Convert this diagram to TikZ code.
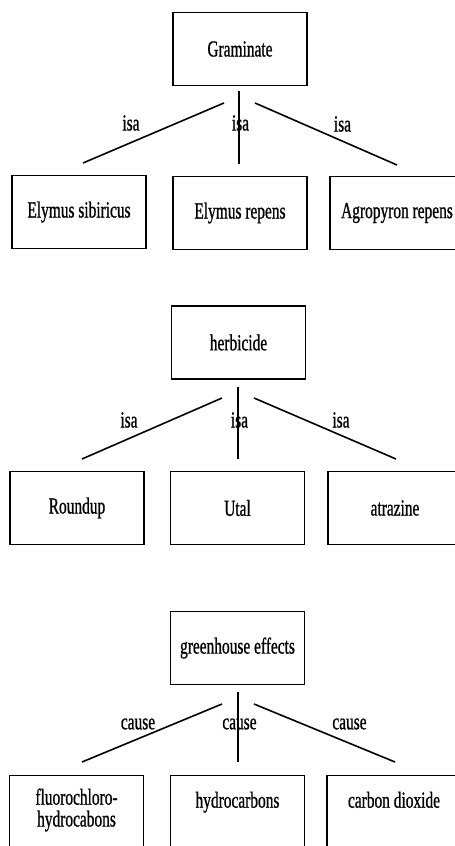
\documentclass[tikz,border=0pt]{standalone}
\usepackage{fontspec}
\setmainfont{Liberation Serif}[FakeStretch=0.67,FakeBold=0.8]
\begin{document}
\begin{tikzpicture}[x=1pt,y=-1pt,
  txt/.style={font=\fontsize{23}{19.5}\selectfont},
  box/.style={txt, draw, line width=1.4pt, minimum width=134pt, minimum height=73pt, inner sep=2pt},
  lowbox/.style={box, anchor=north, minimum height=0pt, inner ysep=0pt, text height=30pt, text depth=80pt},
  rel/.style={txt, inner sep=0pt},
  link/.style={line width=1.6pt}]
\fill[white] (0,0) rectangle (455,846);
\useasboundingbox (0,0) rectangle (455,846);

% ---------- group 1 ----------
\node[box] (gram) at (240,49) {Graminate};
\node[box] (es) at (79,212) {Elymus sibiricus};
\node[box] (er) at (240,213) {Elymus repens};
\node[box] (ar) at (397,213) {Agropyron repens};
\coordinate (g1la) at (224,103); \coordinate (g1lb) at (83,163);
\coordinate (g1ma) at (239,91);  \coordinate (g1mb) at (239,164);
\coordinate (g1ra) at (255,103); \coordinate (g1rb) at (397,165);
\draw[link] (g1la) -- (g1lb);
\draw[link] (g1ma) -- (g1mb);
\draw[link] (g1ra) -- (g1rb);
\node[rel] (g1l) at (131,123) {isa};
\node[rel] (g1m) at (240.5,123) {isa};
\node[rel] (g1r) at (342.5,124) {isa};

% ---------- group 2 ----------
\node[box] (herb) at (238.5,342.5) {herbicide};
\node[box] (round) at (77,508) {Roundup};
\node[box] (utal) at (237.5,508) {Utal};
\node[box] (atra) at (395,508) {atrazine};
\coordinate (g2la) at (222,398); \coordinate (g2lb) at (82,459);
\coordinate (g2ma) at (238,387); \coordinate (g2mb) at (238,459);
\coordinate (g2ra) at (254,398); \coordinate (g2rb) at (396,459);
\draw[link] (g2la) -- (g2lb);
\draw[link] (g2ma) -- (g2mb);
\draw[link] (g2ra) -- (g2rb);
\node[rel] (g2l) at (129,420) {isa};
\node[rel] (g2m) at (239.5,420) {isa};
\node[rel] (g2r) at (341,420) {isa};

% ---------- group 3 ----------
\node[box] (green) at (237.5,648) {greenhouse effects};
\node[lowbox, text height=29pt] (fluoro) at (76.5,775) {\begin{tabular}[t]{@{}c@{}}fluorochloro-\\hydrocabons\end{tabular}};
\node[lowbox, text height=32pt] (hydro) at (237.5,775) {hydrocarbons};
\node[lowbox, text height=32pt] (co2) at (394,775) {carbon dioxide};
\coordinate (g3la) at (222,704); \coordinate (g3lb) at (82,762);
\coordinate (g3ma) at (238,692); \coordinate (g3mb) at (238,762);
\coordinate (g3ra) at (254,704); \coordinate (g3rb) at (395,762);
\draw[link] (g3la) -- (g3lb);
\draw[link] (g3ma) -- (g3mb);
\draw[link] (g3ra) -- (g3rb);
\node[rel] (g3l) at (138,724) {cause};
\node[rel] (g3m) at (239.5,724) {cause};
\node[rel] (g3r) at (349.5,724) {cause};
\end{tikzpicture}
\end{document}
